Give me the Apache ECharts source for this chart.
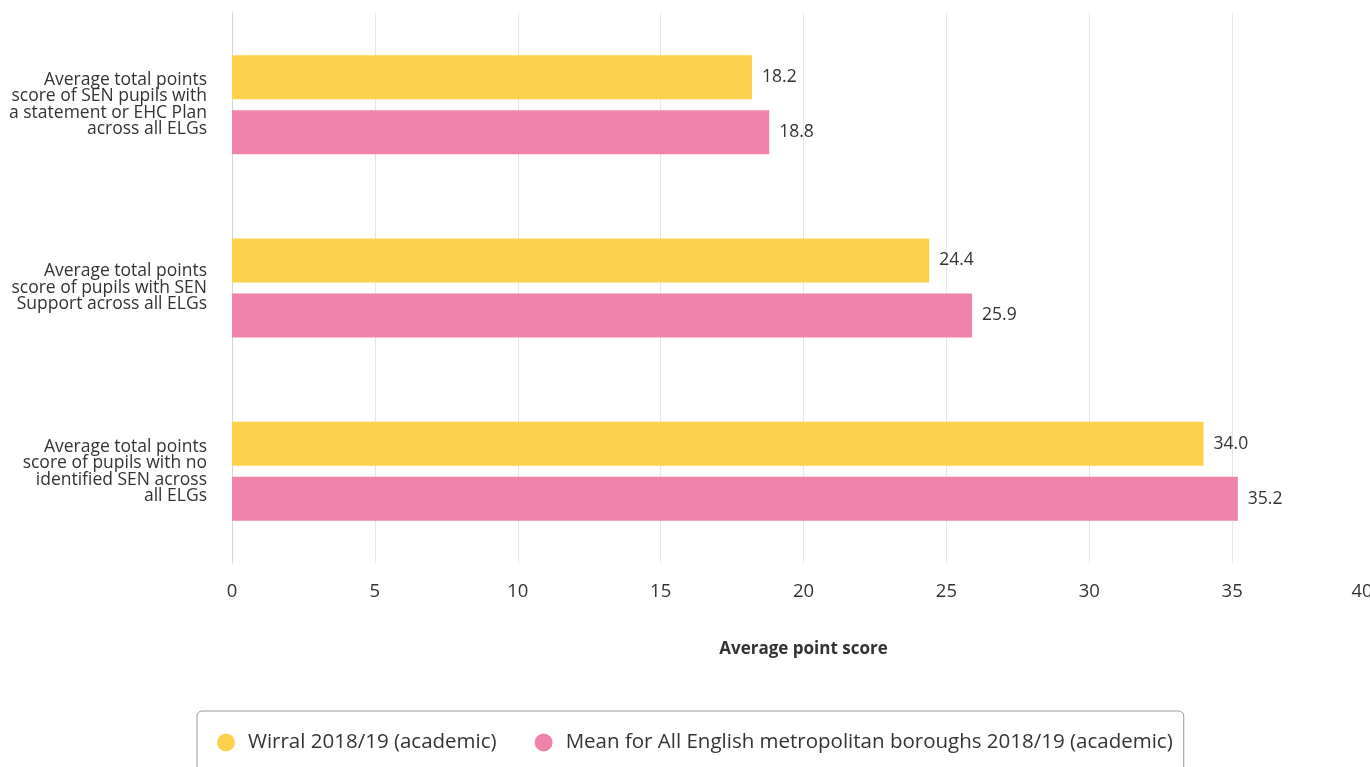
<!DOCTYPE html>
<html><head><meta charset="utf-8">
<script src="https://cdn.jsdelivr.net/npm/echarts@6/dist/echarts.min.js"></script>
<style>html,body{margin:0;padding:0;background:#fff}#c{width:1370px;height:767px}</style>
</head><body><div id="c"></div>
<script>
const categories = [
  "Average total points\nscore of SEN pupils with\na statement or EHC Plan\nacross all ELGs",
  "Average total points\nscore of pupils with SEN\nSupport across all ELGs",
  "Average total points\nscore of pupils with no\nidentified SEN across\nall ELGs"
];
const seriesNames = ["Wirral 2018/19 (academic)", "Mean for All English metropolitan boroughs 2018/19 (academic)"];
const wirral = [18.2, 24.4, 34.0];
const meanMet = [18.8, 25.9, 35.2];
const xTicks = [0, 5, 10, 15, 20, 25, 30, 35, 40];
const colors = ["#FCD24C", "#EF83AC"];

const chart = echarts.init(document.getElementById('c'));
const lbl = {show: true, position: 'right', distance: 10, color: '#333', fontSize: 17.5, fontFamily: 'Open Sans', formatter: p => p.value.toFixed(1)};
const xMax = xTicks[xTicks.length - 1];
chart.setOption({
  animation: false,
  textStyle: {fontFamily: 'Open Sans'},
  grid: {left: 232, width: 1143, top: 13, height: 550, containLabel: false, outerBoundsMode: 'none'},
  xAxis: {
    type: 'value', min: xTicks[0], max: xMax, interval: 5,
    name: 'Average point score', nameLocation: 'middle', nameGap: 78,
    nameTextStyle: {fontWeight: 'bold', fontSize: 17, color: '#333', fontFamily: 'Open Sans'},
    axisLine: {show: false}, axisTick: {show: false},
    axisLabel: {fontSize: 18.5, color: '#333', margin: 19, fontFamily: 'Open Sans',
      formatter: v => v === xMax ? '{last|' + v + '}' : String(v),
      rich: {last: {fontSize: 18.5, color: '#333', fontFamily: 'Open Sans', padding: [0, 26, 0, 0]}}},
    splitLine: {lineStyle: {color: '#e6e6e6', width: 1}}
  },
  yAxis: {
    type: 'category', data: categories, inverse: true,
    axisLine: {show: true, lineStyle: {color: '#ccd6eb', width: 1}}, axisTick: {show: false},
    axisLabel: {fontSize: 17.5, lineHeight: 16.5, color: '#333', margin: 25, align: 'right', fontFamily: 'Open Sans', padding: [4, 0, 0, 0]}
  },
  legend: {
    left: 197, top: 711,
    padding: [21, 11, 40, 20],
    borderColor: '#999', borderWidth: 1, borderRadius: 5,
    icon: 'circle', itemWidth: 34, itemHeight: 18, itemGap: 38,
    textStyle: {fontSize: 20.5, color: '#333', fontFamily: 'Open Sans'},
    data: seriesNames
  },
  series: [
    {name: seriesNames[0], type: 'bar', data: wirral, barWidth: 44, barGap: '25%', itemStyle: {color: colors[0]}, label: lbl},
    {name: seriesNames[1], type: 'bar', data: meanMet, barWidth: 44, barGap: '25%', itemStyle: {color: colors[1]}, label: lbl}
  ]
});
</script></body></html>
